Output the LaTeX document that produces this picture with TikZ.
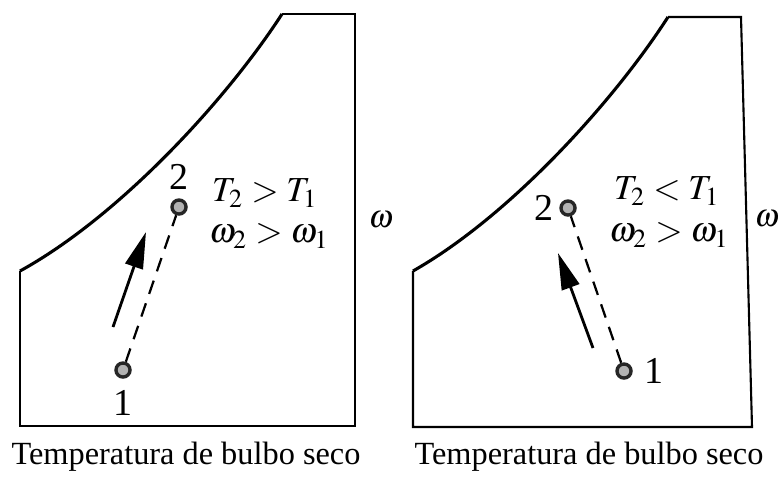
\documentclass[tikz,border=0pt]{standalone}
\usepackage{mathptmx}
\usepackage{fontspec}
\setmainfont{Liberation Serif}
\usepackage{tikz}
\usetikzlibrary{arrows.meta,calc,positioning}

\begin{document}
\begin{tikzpicture}[
    x=0.0125cm,
    y=-0.0125cm,
    font=\fontsize{11.5}{14}\selectfont,
    chartedge/.style={
        draw=black,
        line width=0.75pt,
        line join=miter
    },
    satcurve/.style={
        draw=black,
        line width=1.1pt
    },
    statept/.style={
        circle,
        draw=black!85,
        fill=gray!60,
        line width=1.2pt,
        inner sep=0pt,
        minimum size=5pt
    },
    ptlabel/.style={
        font=\fontsize{13.5}{15}\selectfont,
        inner sep=1pt
    },
    statelabel/.style={
        font=\fontsize{12.5}{14}\selectfont,
        inner sep=0pt
    },
    axislabel/.style={
        font=\fontsize{11.5}{14}\selectfont,
        inner sep=0.5pt
    },
    processline/.style={
        draw=black,
        line width=0.8pt,
        dash pattern=on 5pt off 3.5pt
    },
    dirarrow/.style={
        draw=black,
        line width=1.0pt,
        -{Triangle[length=13pt,width=6.5pt]}
    }
]
\useasboundingbox (0,0) rectangle (780,479);

% Left chart
\draw[chartedge] (282,14) -- (355,14) -- (355,426) -- (20,426) -- (20,271);
\draw[satcurve] (20,271) .. controls (120,216) and (227,99) .. (282,14);

\node[statept] (p1L) at (123,370) {};
\node[statept] (p2L) at (179,207) {};
\node[ptlabel, below=3pt of p1L] (n1L) {1};
\node[ptlabel, above=2pt of p2L] (n2L) {2};

\draw[processline] (p1L) -- (p2L);

\coordinate (a1L) at (113,327);
\coordinate (a2L) at (146,232);
\draw[dirarrow] (a1L) -- (a2L);

\node[statelabel] (tL) at (265,193) {$T_2 > T_1$};
\node[statelabel] (wL) at (269,236) {$\omega_2 > \omega_1$};
\node[axislabel] (omL) at (381,220) {$\omega$};

\node (xL) at (186,457) {Temperatura de bulbo seco};

% Right chart
\draw[chartedge] (668,17) -- (741,17) -- (752,427) -- (413,427) -- (413,271);
\draw[satcurve] (413,271) .. controls (510,216) and (614,101) .. (668,17);

\node[statept] (p1R) at (624,371) {};
\node[statept] (p2R) at (568,208) {};
\node[ptlabel, right=3pt of p1R] (n1R) {1};
\node[ptlabel, left=1pt of p2R] (n2R) {2};

\draw[processline] (p1R) -- (p2R);

\coordinate (a1R) at (593,348);
\coordinate (a2R) at (558,253);
\draw[dirarrow] (a1R) -- (a2R);

\node[statelabel] (tR) at (667,191) {$T_2 < T_1$};
\node[statelabel] (wR) at (669,235) {$\omega_2 > \omega_1$};
\node[axislabel] (omR) at (767,219) {$\omega$};

\node (xR) at (589,457) {Temperatura de bulbo seco};

\end{tikzpicture}
\end{document}
